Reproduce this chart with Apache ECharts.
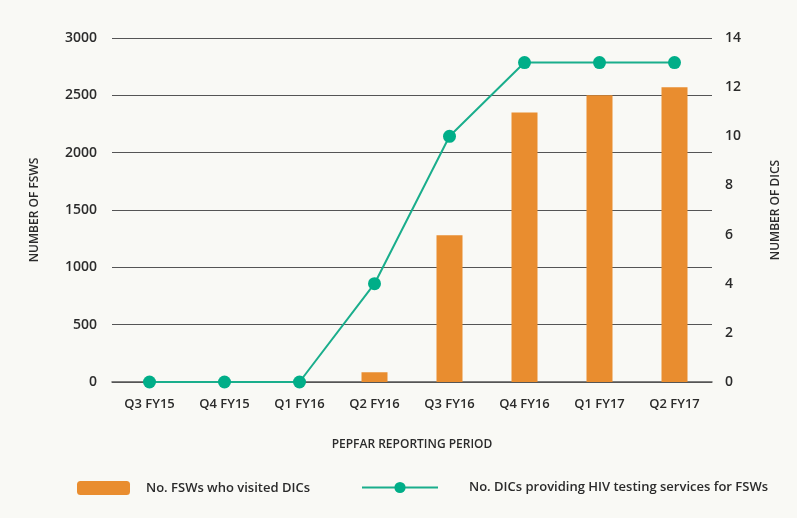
<!DOCTYPE html>
<html><head><meta charset="utf-8">
<script src="https://cdn.jsdelivr.net/npm/echarts@6/dist/echarts.min.js"></script>
<style>html,body{margin:0;padding:0;background:#f9f9f5}#c{width:797px;height:518px}</style>
</head><body><div id="c"></div>
<script>
const categories = ['Q3 FY15','Q4 FY15','Q1 FY16','Q2 FY16','Q3 FY16','Q4 FY16','Q1 FY17','Q2 FY17'];
const fswVisited = [0, 0, 0, 85, 1280, 2350, 2500, 2570];
const dicsTesting = [0, 0, 0, 4, 10, 13, 13, 13];
const leftTicks = {min: 0, max: 3000, interval: 500};
const rightTicks = {min: 0, max: 14, interval: 2};

const font = '"Open Sans", Lato, sans-serif';
const txt = '#2b2b2b';
const fw = 600;
const chart = echarts.init(document.getElementById('c'));
chart.setOption({
  backgroundColor: '#f9f9f5',
  textStyle: {fontFamily: font},
  grid: {left: 112, right: 85, top: 38, bottom: 136},
  legend: [
    {data: ['No. FSWs who visited DICs'], left: 77, top: 481, padding: 0, itemWidth: 53, itemHeight: 14,
     textStyle: {color: txt, fontSize: 13, fontWeight: fw, fontFamily: font, padding: [0,0,0,11]}},
    {data: ['No. DICs providing HIV testing services for FSWs'], left: 361, top: 481, padding: 0, itemWidth: 76, itemHeight: 14,
     textStyle: {color: txt, fontSize: 13, fontWeight: fw, fontFamily: font, padding: [0,0,0,26]}}
  ],
  xAxis: {
    type: 'category', data: categories,
    axisLine: {show: true, lineStyle: {color: '#555', width: 1.5}},
    axisTick: {show: false},
    axisLabel: {color: txt, fontSize: 13, fontWeight: fw, margin: 16, fontFamily: font},
    name: 'PEPFAR REPORTING PERIOD', nameLocation: 'middle', nameGap: 57,
    nameTextStyle: {color: txt, fontSize: 12, fontWeight: fw, fontFamily: font}
  },
  yAxis: [
    {type: 'value', min: leftTicks.min, max: leftTicks.max, interval: leftTicks.interval,
     axisLine: {show: false}, axisTick: {show: false},
     axisLabel: {color: txt, fontSize: 14, fontWeight: fw, margin: 15, fontFamily: font, formatter: v => String(v)},
     splitLine: {lineStyle: {color: '#555', width: 1.2}},
     name: 'NUMBER OF FSWS', nameLocation: 'middle', nameGap: 71, nameRotate: 90,
     nameTextStyle: {color: txt, fontSize: 12, fontWeight: fw, fontFamily: font}},
    {type: 'value', min: rightTicks.min, max: rightTicks.max, interval: rightTicks.interval,
     axisLine: {show: false}, axisTick: {show: false},
     axisLabel: {color: txt, fontSize: 14, fontWeight: fw, margin: 13, fontFamily: font},
     splitLine: {show: false},
     name: 'NUMBER OF DICS', nameLocation: 'middle', nameGap: 58, nameRotate: 90,
     nameTextStyle: {color: txt, fontSize: 12, fontWeight: fw, fontFamily: font}}
  ],
  series: [
    {name: 'No. FSWs who visited DICs', type: 'bar', data: fswVisited, barWidth: 26,
     itemStyle: {color: '#e98d2f'}},
    {name: 'No. DICs providing HIV testing services for FSWs', type: 'line', yAxisIndex: 1,
     data: dicsTesting, symbol: 'circle', symbolSize: 13,
     lineStyle: {color: '#1aae8c', width: 2}, itemStyle: {color: '#00ae88'}, z: 5}
  ]
});
</script></body></html>
